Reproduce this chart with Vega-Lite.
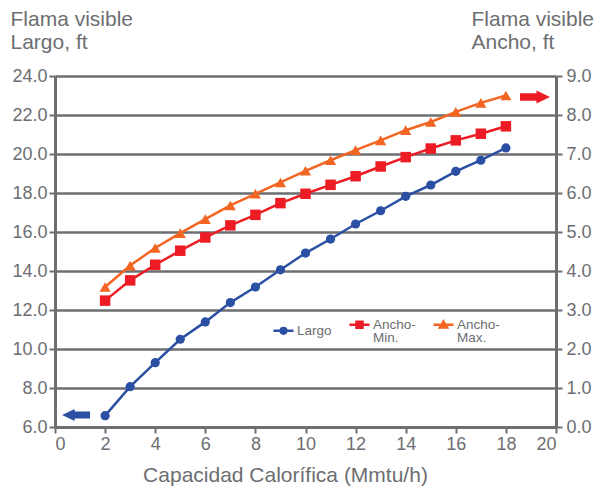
{
  "$schema": "https://vega.github.io/schema/vega-lite/v6.json",
  "width": 501,
  "height": 351,
  "autosize": {"type": "none"},
  "padding": {"left": 55, "top": 76, "right": 51, "bottom": 60},
  "background": "white",
  "config": {
    "view": {"stroke": null},
    "font": "Liberation Sans",
    "axis": {
      "labelFont": "Liberation Sans",
      "labelFontSize": 18,
      "labelColor": "#6d6e71",
      "titleFont": "Liberation Sans",
      "titleFontSize": 21,
      "titleFontWeight": "normal",
      "titleColor": "#6d6e71",
      "domainColor": "#6d6e71",
      "domainWidth": 3,
      "tickColor": "#6d6e71",
      "tickWidth": 2,
      "tickSize": 6,
      "gridColor": "#6d6e71",
      "gridWidth": 2.7,
      "gridOpacity": 1
    },
    "legend": {
      "orient": "none",
      "legendX": 217,
      "legendY": 237,
      "direction": "horizontal",
      "padding": 0,
      "symbolSize": 400,
      "symbolStrokeWidth": 2.5,
      "symbolOpacity": 1,
      "labelFont": "Liberation Sans",
      "labelFontSize": 13.5,
      "labelColor": "#6d6e71",
      "labelOffset": 2,
      "columnPadding": 12
    }
  },
  "datasets": {
    "largo": [
      {"x": 2, "value": 6.58, "series": "Largo"},
      {"x": 3, "value": 8.07, "series": "Largo"},
      {"x": 4, "value": 9.30, "series": "Largo"},
      {"x": 5, "value": 10.50, "series": "Largo"},
      {"x": 6, "value": 11.39, "series": "Largo"},
      {"x": 7, "value": 12.38, "series": "Largo"},
      {"x": 8, "value": 13.18, "series": "Largo"},
      {"x": 9, "value": 14.06, "series": "Largo"},
      {"x": 10, "value": 14.92, "series": "Largo"},
      {"x": 11, "value": 15.64, "series": "Largo"},
      {"x": 12, "value": 16.41, "series": "Largo"},
      {"x": 13, "value": 17.09, "series": "Largo"},
      {"x": 14, "value": 17.83, "series": "Largo"},
      {"x": 15, "value": 18.41, "series": "Largo"},
      {"x": 16, "value": 19.11, "series": "Largo"},
      {"x": 17, "value": 19.68, "series": "Largo"},
      {"x": 18, "value": 20.31, "series": "Largo"}
    ],
    "ancho": [
      {"x": 2, "value": 3.24, "series": "Ancho-Min."},
      {"x": 3, "value": 3.76, "series": "Ancho-Min."},
      {"x": 4, "value": 4.16, "series": "Ancho-Min."},
      {"x": 5, "value": 4.52, "series": "Ancho-Min."},
      {"x": 6, "value": 4.86, "series": "Ancho-Min."},
      {"x": 7, "value": 5.17, "series": "Ancho-Min."},
      {"x": 8, "value": 5.44, "series": "Ancho-Min."},
      {"x": 9, "value": 5.74, "series": "Ancho-Min."},
      {"x": 10, "value": 5.98, "series": "Ancho-Min."},
      {"x": 11, "value": 6.21, "series": "Ancho-Min."},
      {"x": 12, "value": 6.43, "series": "Ancho-Min."},
      {"x": 13, "value": 6.68, "series": "Ancho-Min."},
      {"x": 14, "value": 6.92, "series": "Ancho-Min."},
      {"x": 15, "value": 7.14, "series": "Ancho-Min."},
      {"x": 16, "value": 7.35, "series": "Ancho-Min."},
      {"x": 17, "value": 7.52, "series": "Ancho-Min."},
      {"x": 18, "value": 7.71, "series": "Ancho-Min."},
      {"x": 2, "value": 3.59, "series": "Ancho-Max."},
      {"x": 3, "value": 4.14, "series": "Ancho-Max."},
      {"x": 4, "value": 4.59, "series": "Ancho-Max."},
      {"x": 5, "value": 4.97, "series": "Ancho-Max."},
      {"x": 6, "value": 5.33, "series": "Ancho-Max."},
      {"x": 7, "value": 5.68, "series": "Ancho-Max."},
      {"x": 8, "value": 5.98, "series": "Ancho-Max."},
      {"x": 9, "value": 6.27, "series": "Ancho-Max."},
      {"x": 10, "value": 6.57, "series": "Ancho-Max."},
      {"x": 11, "value": 6.84, "series": "Ancho-Max."},
      {"x": 12, "value": 7.10, "series": "Ancho-Max."},
      {"x": 13, "value": 7.35, "series": "Ancho-Max."},
      {"x": 14, "value": 7.61, "series": "Ancho-Max."},
      {"x": 15, "value": 7.82, "series": "Ancho-Max."},
      {"x": 16, "value": 8.08, "series": "Ancho-Max."},
      {"x": 17, "value": 8.31, "series": "Ancho-Max."},
      {"x": 18, "value": 8.50, "series": "Ancho-Max."}
    ],
    "arrowLeft": [{"x": 0.84, "value": 6.62}],
    "arrowRight": [{"x": 19.16, "value": 8.46}]
  },
  "encoding": {
    "x": {
      "field": "x",
      "type": "quantitative",
      "scale": {"domain": [0, 20], "nice": false, "zero": false},
      "axis": {
        "values": [0, 2, 4, 6, 8, 10, 12, 14, 16, 18, 20],
        "grid": false,
        "labelPadding": 2,
        "title": "Capacidad Calorífica  (Mmtu/h)",
        "titleX": 230,
        "titleY": 54,
        "titleAlign": "center",
        "titleBaseline": "alphabetic"
      }
    }
  },
  "layer": [
    {
      "encoding": {
        "y": {
          "field": "value",
          "type": "quantitative",
          "scale": {"domain": [6, 24], "nice": false, "zero": false},
          "axis": {
            "orient": "left",
            "values": [6, 8, 10, 12, 14, 16, 18, 20, 22, 24],
            "format": ".1f",
            "grid": true,
            "labelPadding": 2,
            "title": ["Flama visible", "Largo, ft"],
            "titleAngle": 0,
            "titleAlign": "left",
            "titleBaseline": "alphabetic",
            "titleLineHeight": 23,
            "titleX": -45,
            "titleY": -51
          }
        }
      },
      "layer": [
        {
          "data": {"name": "largo"},
          "mark": {"type": "line", "strokeWidth": 2.5},
          "encoding": {
            "color": {
              "field": "series",
              "type": "nominal",
              "scale": {"domain": ["Largo", "Ancho-Min.", "Ancho-Max."], "range": ["#2a4fa3", "#ed1c24", "#f26522"]},
              "legend": {
                "title": null,
                "labelExpr": "datum.label == 'Ancho-Min.' ? ['Ancho-', 'Min.'] : datum.label == 'Ancho-Max.' ? ['Ancho-', 'Max.'] : datum.label",
                "encode": {
                  "symbols": {
                    "update": {
                      "shape": {"signal": "datum.value == 'Largo' ? 'M-1,0H1M0.28,0A0.28,0.28 0 1,1 -0.28,0A0.28,0.28 0 1,1 0.28,0Z' : datum.value == 'Ancho-Min.' ? 'M-1,0H1M-0.3,-0.3H0.3V0.3H-0.3Z' : 'M-1,0H1M0,-0.32L0.36,0.28L-0.36,0.28Z'"},
                      "fill": {"signal": "scale('color', datum.value)"},
                      "stroke": {"signal": "scale('color', datum.value)"},
                      "strokeWidth": {"value": 2.5}
                    }
                  },
                  "labels": {"update": {"lineHeight": {"value": 13.5}}}
                }
              }
            }
          }
        },
        {
          "data": {"name": "largo"},
          "mark": {"type": "point", "filled": true, "opacity": 1, "size": 85, "shape": "circle"},
          "encoding": {
            "color": {"field": "series", "type": "nominal"}
          }
        },
        {
          "data": {"name": "arrowLeft"},
          "mark": {"type": "point", "filled": true, "opacity": 1, "color": "#2a4fa3", "size": 784, "shape": "M1,-0.25L-0.1,-0.25L-0.1,-0.43L-1,0L-0.1,0.43L-0.1,0.25L1,0.25Z"}
        }
      ]
    },
    {
      "encoding": {
        "y": {
          "field": "value",
          "type": "quantitative",
          "scale": {"domain": [0, 9], "nice": false, "zero": false},
          "axis": {
            "orient": "right",
            "values": [0, 1, 2, 3, 4, 5, 6, 7, 8, 9],
            "format": ".1f",
            "grid": false,
            "labelPadding": 4,
            "title": ["Flama visible", "Ancho, ft"],
            "titleAngle": 0,
            "titleAlign": "left",
            "titleBaseline": "alphabetic",
            "titleLineHeight": 23,
            "titleX": -85,
            "titleY": -51
          }
        }
      },
      "layer": [
        {
          "data": {"name": "ancho"},
          "mark": {"type": "line", "strokeWidth": 2.5},
          "encoding": {
            "color": {"field": "series", "type": "nominal"}
          }
        },
        {
          "data": {"name": "ancho"},
          "transform": [{"filter": "datum.series == 'Ancho-Min.'"}],
          "mark": {"type": "point", "filled": true, "opacity": 1, "size": 110, "shape": "square"},
          "encoding": {
            "color": {"field": "series", "type": "nominal"}
          }
        },
        {
          "data": {"name": "ancho"},
          "transform": [{"filter": "datum.series == 'Ancho-Max.'"}],
          "mark": {"type": "point", "filled": true, "opacity": 1, "size": 125, "shape": "triangle-up"},
          "encoding": {
            "color": {"field": "series", "type": "nominal"}
          }
        },
        {
          "data": {"name": "arrowRight"},
          "mark": {"type": "point", "filled": true, "opacity": 1, "color": "#ed1c24", "size": 900, "shape": "M-1,-0.25L0.1,-0.25L0.1,-0.43L1,0L0.1,0.43L0.1,0.25L-1,0.25Z"}
        }
      ]
    }
  ],
  "resolve": {"scale": {"y": "independent"}}
}
